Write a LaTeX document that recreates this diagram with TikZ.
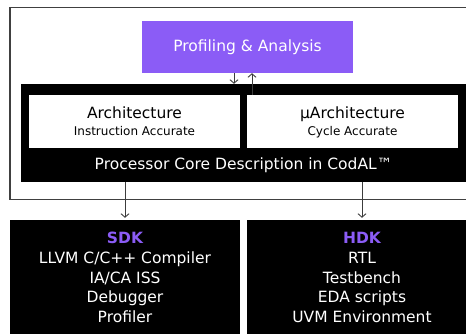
\documentclass[tikz,border=0pt]{standalone}
\usepackage{fontspec}
\setmainfont{DejaVu Sans}
\usetikzlibrary{arrows.meta}
\definecolor{brandpurple}{HTML}{8B5CF6}
\definecolor{framegray}{HTML}{404040}
\definecolor{arrowgray}{HTML}{3C3C3C}
\tikzset{
  bigfont/.style={font=\fontsize{15.5}{19.7}\selectfont},
  purplebox/.style={fill=brandpurple, text=white, inner sep=0pt, minimum width=211pt, minimum height=52pt, bigfont},
  blackbox/.style={fill=black, inner sep=0pt},
  whitebox/.style={fill=white, inner sep=0pt, minimum width=211pt, minimum height=53pt},
  titletext/.style={anchor=base, inner sep=0pt, font=\fontsize{15.5}{18}\selectfont},
  subtext/.style={anchor=base, inner sep=0pt, font=\fontsize{12}{14}\selectfont},
  boxtext/.style={text=white, align=center, bigfont},
  arr/.style={draw=arrowgray, line width=0.9pt, -{Straight Barb[length=3.5pt,width=8pt]}},
  framebox/.style={draw=framegray, line width=1.5pt, inner sep=0pt}
}
\begin{document}
\begin{tikzpicture}[x=1pt,y=-1pt]
\useasboundingbox (0,0) rectangle (466,334);
\clip (0,0) rectangle (466,334);
% outer frame
\node[framebox, minimum width=470pt, minimum height=192pt] (outer) at (245,103.5) {};
% profiling
\node[purplebox] (prof) at (247.5,47) {Profiling \& Analysis};
% core description
\node[blackbox, minimum width=459pt, minimum height=98pt] (core) at (250.5,133) {};
\node[whitebox] (arch) at (134.5,121.5) {};
\node[whitebox] (uarch) at (352.5,121.5) {};
\node[titletext] (archtitle) at (134.5,118.5) {Architecture};
\node[subtext] (archsub) at (134.5,136) {Instruction Accurate};
\node[titletext] (uarchtitle) at (352.5,118.5) {µArchitecture};
\node[subtext] (uarchsub) at (352.5,136) {Cycle Accurate};
\node[boxtext] (corelabel) at (243.5,165) {Processor Core Description in CodAL™};
% SDK / HDK
\node[blackbox, minimum width=230pt, minimum height=124pt] (sdk) at (125,282) {};
\node[blackbox, minimum width=230pt, minimum height=124pt] (hdk) at (362,282) {};
\node[boxtext] (sdktext) at (125,277.5) {{\bfseries\color{brandpurple}SDK}\\LLVM C/C++ Compiler\\IA/CA ISS\\Debugger\\Profiler};
\node[boxtext] (hdktext) at (362,277.5) {{\bfseries\color{brandpurple}HDK}\\RTL\\Testbench\\EDA scripts\\UVM Environment};
% connectors
\draw[arr] ([xshift=-13.5pt]prof.south) -- ([xshift=-13.5pt]prof.south |- core.north);
\draw[arr] ([xshift=4.5pt]prof.south |- uarch.north) -- ([xshift=4.5pt]prof.south);
\draw[arr, shorten >=2pt] (sdk.north |- core.south) -- (sdk.north);
\draw[arr, shorten >=2pt] (hdk.north |- core.south) -- (hdk.north);
\end{tikzpicture}
\end{document}
